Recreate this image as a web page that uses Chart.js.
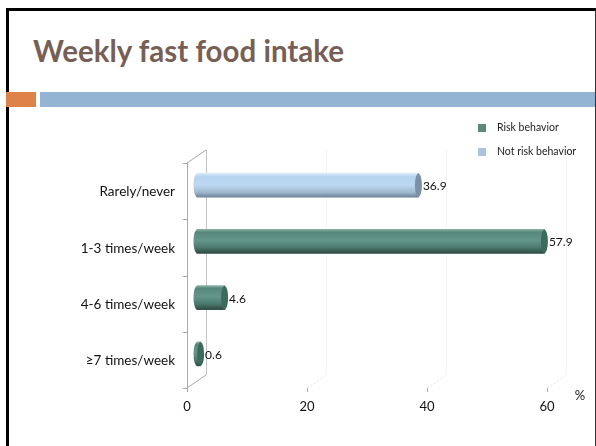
<!DOCTYPE html>
<html lang="en">
<head>
<meta charset="UTF-8">
<title>Weekly fast food intake</title>
<script src="https://cdn.jsdelivr.net/npm/chart.js"></script>
<style>
  html, body { margin: 0; padding: 0; background: #fff; }
  body { width: 596px; height: 446px; position: relative; overflow: hidden; font-family: Lato, "DejaVu Sans", sans-serif; }
  .slide {
    position: absolute; left: 6px; top: 8px; width: 586px; height: 460px;
    border-left: 3px solid #000; border-top: 3px solid #000; border-right: 2px solid #333;
  }
  .titulo {
    position: absolute; left: 33px; top: 31px; margin: 0;
    font-size: 29.5px; font-weight: bold; color: #785f55; line-height: 40px; white-space: nowrap;
  }
  .faixa-laranja { position: absolute; left: 6px; top: 92px; width: 30px; height: 15px; background: #df824a; }
  .faixa-azul { position: absolute; left: 40px; top: 92px; width: 555px; height: 15px; background: #93b4d2; }
  #grafico { position: absolute; left: 0; top: 0; }
  .legenda { position: absolute; left: 478px; top: 121px; font-size: 10.5px; color: #222; }
  .legenda div { height: 24px; line-height: 12px; white-space: nowrap; }
  .legenda span { display: inline-block; width: 8px; height: 8px; margin-right: 11px; vertical-align: -1px; }
</style>
</head>
<body>
  <div class="slide"></div>
  <h1 class="titulo">Weekly fast food intake</h1>
  <div class="faixa-laranja"></div>
  <div class="faixa-azul"></div>
  <canvas id="grafico" width="596" height="446"></canvas>
  <div class="legenda" id="legenda"></div>

<script>
  // dados do gráfico
  var categorias = ['Rarely/never', '1-3 times/week', '4-6 times/week', '≥7 times/week'];
  var nomesSeries = ['Risk behavior', 'Not risk behavior'];
  var valoresRisco = [null, 57.9, 4.6, 0.6];
  var valoresSemRisco = [36.9, null, null, null];
  var ticksX = [0, 20, 40, 60];

  var corLegenda = ['#5b8a7c', '#aac4df'];
  var degradeVerde = [[0, '#86ada1'], [0.12, '#55877a'], [0.45, '#64978a'], [0.75, '#4b7b6e'], [1, '#2d4a42']];
  var degradeAzul = [[0, '#dcecf9'], [0.15, '#b6d3ee'], [0.5, '#bdd8f1'], [0.8, '#9fb8d0'], [1, '#6e8397']];
  var tampaVerde = '#3e6a5e';
  var tampaAzul = '#7d91a5';

  Chart.defaults.font.family = 'Lato, "DejaVu Sans", sans-serif';
  Chart.defaults.color = '#111';

  var ESPESSURA = 24;
  var PROF_X = 19, PROF_Y = 13, DESLOC = 6;

  function degrade(chart, y, paradas) {
    var g = chart.ctx.createLinearGradient(0, y - ESPESSURA / 2, 0, y + ESPESSURA / 2);
    paradas.forEach(function (p) { g.addColorStop(p[0], p[1]); });
    return g;
  }

  function preenchimento(paradas, corBase) {
    return function (ctx) {
      if (ctx.type !== 'data' || !ctx.chart.chartArea) return corBase;
      var y = ctx.chart.scales.y.getPixelForValue(ctx.dataIndex);
      return degrade(ctx.chart, y, paradas);
    };
  }

  // moldura 3D, tampas dos cilindros e rótulos
  var efeito3D = {
    id: 'efeito3D',
    beforeDatasetsDraw: function (chart) {
      var ctx = chart.ctx, x = chart.scales.x, y = chart.scales.y;
      var x0 = x.getPixelForValue(0);
      var topo = y.getPixelForValue(-0.5) + DESLOC;
      var base = y.getPixelForValue(categorias.length - 0.5) + DESLOC;
      ctx.save();
      ctx.lineWidth = 1;

      // linhas de grade do fundo e chão
      ticksX.forEach(function (v) {
        if (v === 0) return;
        var px = Math.round(x.getPixelForValue(v)) + 0.5;
        ctx.strokeStyle = '#f5f5f5';
        ctx.beginPath(); ctx.moveTo(px + PROF_X, topo - PROF_Y); ctx.lineTo(px + PROF_X, base - PROF_Y); ctx.stroke();
        ctx.strokeStyle = '#e0e0e0';
        ctx.setLineDash([2, 2]);
        ctx.beginPath(); ctx.moveTo(px, base); ctx.lineTo(px + PROF_X, base - PROF_Y); ctx.stroke();
        ctx.setLineDash([]);
      });

      // parede do fundo
      ctx.strokeStyle = '#c4c4c4';
      ctx.beginPath(); ctx.moveTo(x0 + PROF_X + 0.5, topo - PROF_Y); ctx.lineTo(x0 + PROF_X + 0.5, base - PROF_Y); ctx.stroke();

      // eixo da frente
      ctx.strokeStyle = '#a8a8a8';
      ctx.beginPath();
      ctx.moveTo(x0 + 0.5, topo); ctx.lineTo(x0 + 0.5, base);
      ctx.moveTo(x0, topo); ctx.lineTo(x0 + PROF_X, topo - PROF_Y);
      ctx.moveTo(x0, base); ctx.lineTo(x0 + PROF_X, base - PROF_Y);
      for (var i = 0; i <= categorias.length; i++) {
        var py = Math.round(y.getPixelForValue(i - 0.5) + DESLOC) + 0.5;
        ctx.moveTo(x0 - 4, py); ctx.lineTo(x0, py);
      }
      ticksX.forEach(function (v) {
        var px = Math.round(x.getPixelForValue(v)) + 0.5;
        ctx.moveTo(px, base); ctx.lineTo(px, base + 4);
      });
      ctx.stroke();
      ctx.restore();
    },
    afterDatasetsDraw: function (chart) {
      var ctx = chart.ctx;
      ctx.save();
      chart.data.datasets.forEach(function (ds, d) {
        var meta = chart.getDatasetMeta(d);
        var paradas = d === 0 ? degradeVerde : degradeAzul;
        meta.data.forEach(function (barra, i) {
          var valor = ds.data[i];
          if (valor === null) return;
          var h = barra.height / 2;
          // ponta esquerda arredondada
          ctx.fillStyle = degrade(chart, barra.y, paradas);
          ctx.beginPath();
          ctx.ellipse(barra.base, barra.y, 3.5, h, 0, Math.PI / 2, Math.PI * 1.5);
          ctx.fill();
          // tampa da direita
          ctx.fillStyle = d === 0 ? tampaVerde : tampaAzul;
          ctx.beginPath();
          ctx.ellipse(barra.x, barra.y, 3.5, h, 0, 0, Math.PI * 2);
          ctx.fill();
          // rótulo do valor
          ctx.fillStyle = '#111';
          ctx.font = '12px Lato, "DejaVu Sans", sans-serif';
          ctx.textAlign = 'left';
          ctx.textBaseline = 'middle';
          ctx.fillText(valor.toFixed(1), barra.x + 4.5, barra.y + 1);
        });
      });
      // unidade do eixo x
      ctx.fillStyle = '#111';
      ctx.font = '13px Lato, "DejaVu Sans", sans-serif';
      ctx.textAlign = 'center';
      ctx.fillText('%', 580, 396);
      ctx.restore();
    }
  };

  var dadosGrafico = {
    labels: categorias,
    datasets: [{
      label: nomesSeries[0],
      data: valoresRisco,
      xAxisID: 'xb',
      backgroundColor: preenchimento(degradeVerde, corLegenda[0]),
      borderWidth: 0,
      barThickness: ESPESSURA
    }, {
      label: nomesSeries[1],
      data: valoresSemRisco,
      xAxisID: 'xb',
      backgroundColor: preenchimento(degradeAzul, corLegenda[1]),
      borderWidth: 0,
      barThickness: ESPESSURA
    }]
  };

  var opcoes = {
    indexAxis: 'y',
    responsive: false,
    animation: false,
    devicePixelRatio: 1,
    grouped: false,
    layout: { padding: { left: 0, top: 157, right: 49, bottom: 0 } },
    plugins: { legend: { display: false }, tooltip: { enabled: false } },
    scales: {
      x: {
        min: 0, max: 60,
        afterFit: function (s) { s.height = 64; },
        afterBuildTicks: function (s) { s.ticks = ticksX.map(function (v) { return { value: v }; }); },
        grid: { display: false, drawTicks: false },
        border: { display: false },
        ticks: { padding: 17, font: { size: 13 }, color: '#111' }
      },
      // eixo das barras, deslocado para a profundidade do 3D
      xb: {
        display: false,
        min: -10 / 6, max: 60 - 10 / 6
      },
      y: {
        afterFit: function (s) { s.width = 187; },
        grid: { display: false, drawTicks: false },
        border: { display: false },
        ticks: { padding: 12, labelOffset: 7, font: { size: 13.5 }, color: '#111' }
      }
    }
  };

  var grafico = new Chart(document.getElementById('grafico').getContext('2d'), {
    type: 'bar',
    data: dadosGrafico,
    options: opcoes,
    plugins: [efeito3D]
  });

  // legenda em coluna
  var legenda = document.getElementById('legenda');
  grafico.data.datasets.forEach(function (ds, i) {
    var item = document.createElement('div');
    var quadrado = document.createElement('span');
    quadrado.style.background = corLegenda[i];
    item.appendChild(quadrado);
    item.appendChild(document.createTextNode(ds.label));
    legenda.appendChild(item);
  });
</script>
</body>
</html>
